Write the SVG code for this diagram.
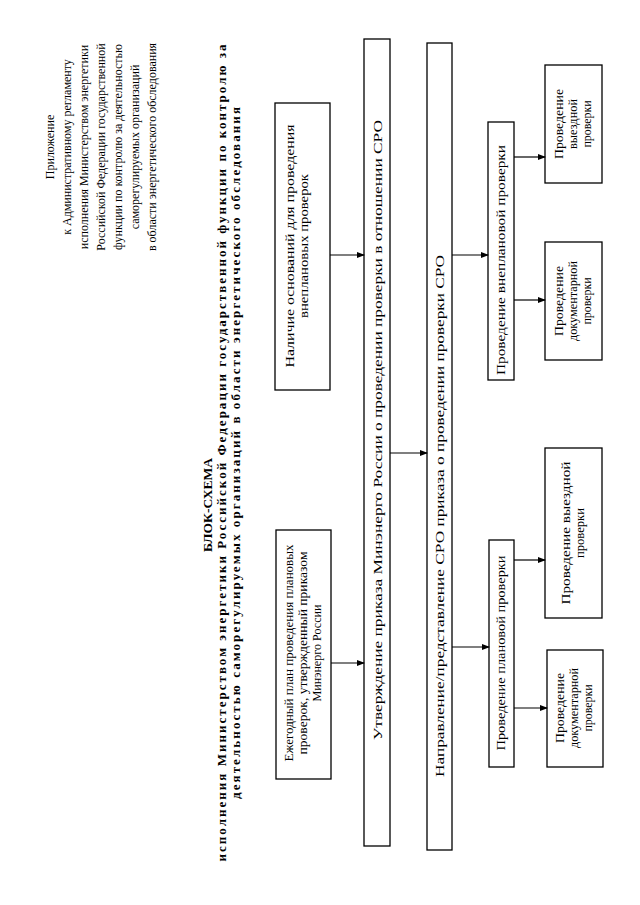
<svg xmlns="http://www.w3.org/2000/svg" width="640" height="905" viewBox="0 0 640 905">
<defs>
<marker id="ah" markerWidth="8" markerHeight="6" refX="7" refY="3" orient="auto" markerUnits="userSpaceOnUse">
<path d="M0,0 L8,3 L0,6 Z" fill="#000"/>
</marker>
<style>
.t{font-family:"Liberation Serif","Times New Roman",serif;fill:#000;text-anchor:middle}
.a{font-size:12px}
.h{font-weight:bold}
.b{font-size:12px}
.s{font-size:11.5px}
.box{fill:none;stroke:#000;stroke-width:1.3}
.c{stroke:#000;stroke-width:1.2;fill:none;marker-end:url(#ah)}
</style>
</defs>
<rect width="640" height="905" fill="#fff"/>
<g transform="translate(0,905) rotate(-90)">
<g id="appendix" class="t a">
<text x="758" y="54">Приложение</text>
<text x="758" y="71">к Административному регламенту</text>
<text x="758" y="88">исполнения Министерством энергетики</text>
<text x="758" y="105">Российской Федерации государственной</text>
<text x="758" y="122">функции по контролю за деятельностью</text>
<text x="758" y="139">саморегулируемых организаций</text>
<text x="758" y="156">в области энергетического обследования</text>
</g>
<g id="title" class="t h">
<text x="400" y="212" font-size="13.5">БЛОК-СХЕМА</text>
<text x="452" y="226" font-size="13" textLength="817" lengthAdjust="spacing">исполнения Министерством энергетики Российской Федерации государственной функции по контролю за</text>
<text x="452" y="240" font-size="13" textLength="692" lengthAdjust="spacing">деятельностью саморегулируемых организаций в области энергетического обследования</text>
</g>
<g id="n1">
<rect class="box" x="515" y="275" width="287" height="55"/>
<text class="t b" x="659" y="294" textLength="243" lengthAdjust="spacingAndGlyphs">Наличие оснований для проведения</text>
<text class="t b" x="659" y="308" textLength="144" lengthAdjust="spacingAndGlyphs">внеплановых проверок</text>
</g>
<g id="n2">
<rect class="box" x="126" y="276" width="249" height="55"/>
<text class="t b" x="252" y="293" textLength="217" lengthAdjust="spacingAndGlyphs">Ежегодный план проведения плановых</text>
<text class="t b" x="252" y="307" textLength="203" lengthAdjust="spacingAndGlyphs">проверок, утвержденный приказом</text>
<text class="t b" x="252" y="321" textLength="97" lengthAdjust="spacingAndGlyphs">Минэнерго России</text>
</g>
<g id="n3">
<rect class="box" x="59" y="364" width="807" height="26"/>
<text class="t b" x="475" y="382" textLength="620" lengthAdjust="spacingAndGlyphs">Утверждение приказа Минэнерго России о проведении проверки в отношении СРО</text>
</g>
<g id="n4">
<rect class="box" x="55" y="427" width="807" height="25"/>
<text class="t b" x="389" y="444" textLength="522" lengthAdjust="spacingAndGlyphs">Направление/представление СРО приказа о проведении проверки СРО</text>
</g>
<g id="n5">
<rect class="box" x="525" y="488" width="258" height="26"/>
<text class="t b" x="645" y="505" textLength="230" lengthAdjust="spacingAndGlyphs">Проведение внеплановой проверки</text>
</g>
<g id="n6">
<rect class="box" x="138" y="489" width="227" height="25"/>
<text class="t b" x="252" y="505" textLength="195" lengthAdjust="spacingAndGlyphs">Проведение плановой проверки</text>
</g>
<g id="n7">
<rect class="box" x="722" y="545" width="118" height="57"/>
<text class="t b" x="781" y="563" textLength="70" lengthAdjust="spacingAndGlyphs">Проведение</text>
<text class="t s" x="781" y="577" textLength="50" lengthAdjust="spacingAndGlyphs">выездной</text>
<text class="t s" x="781" y="591" textLength="47" lengthAdjust="spacingAndGlyphs">проверки</text>
</g>
<g id="n8">
<rect class="box" x="545" y="545" width="118" height="57"/>
<text class="t b" x="604" y="563" textLength="70" lengthAdjust="spacingAndGlyphs">Проведение</text>
<text class="t s" x="604" y="577" textLength="80" lengthAdjust="spacingAndGlyphs">документарной</text>
<text class="t s" x="604" y="591" textLength="47" lengthAdjust="spacingAndGlyphs">проверки</text>
</g>
<g id="n9">
<rect class="box" x="287" y="545" width="170" height="57"/>
<text class="t b" x="372" y="570" textLength="143" lengthAdjust="spacingAndGlyphs">Проведение выездной</text>
<text class="t b" x="372" y="584" textLength="50" lengthAdjust="spacingAndGlyphs">проверки</text>
</g>
<g id="n10">
<rect class="box" x="138" y="547" width="117" height="56"/>
<text class="t b" x="197" y="564" textLength="70" lengthAdjust="spacingAndGlyphs">Проведение</text>
<text class="t s" x="197" y="578" textLength="80" lengthAdjust="spacingAndGlyphs">документарной</text>
<text class="t s" x="197" y="592" textLength="47" lengthAdjust="spacingAndGlyphs">проверки</text>
</g>
<g id="connectors">
<line class="c" x1="650" y1="330" x2="650" y2="364"/>
<line class="c" x1="242" y1="331" x2="242" y2="364"/>
<line class="c" x1="452" y1="390" x2="452" y2="427"/>
<line class="c" x1="650" y1="452" x2="650" y2="488"/>
<line class="c" x1="258" y1="452" x2="258" y2="489"/>
<line class="c" x1="748" y1="514" x2="748" y2="545"/>
<line class="c" x1="605" y1="514" x2="605" y2="545"/>
<line class="c" x1="345" y1="514" x2="345" y2="545"/>
<line class="c" x1="197" y1="514" x2="197" y2="547"/>
</g>
</g>
</svg>
